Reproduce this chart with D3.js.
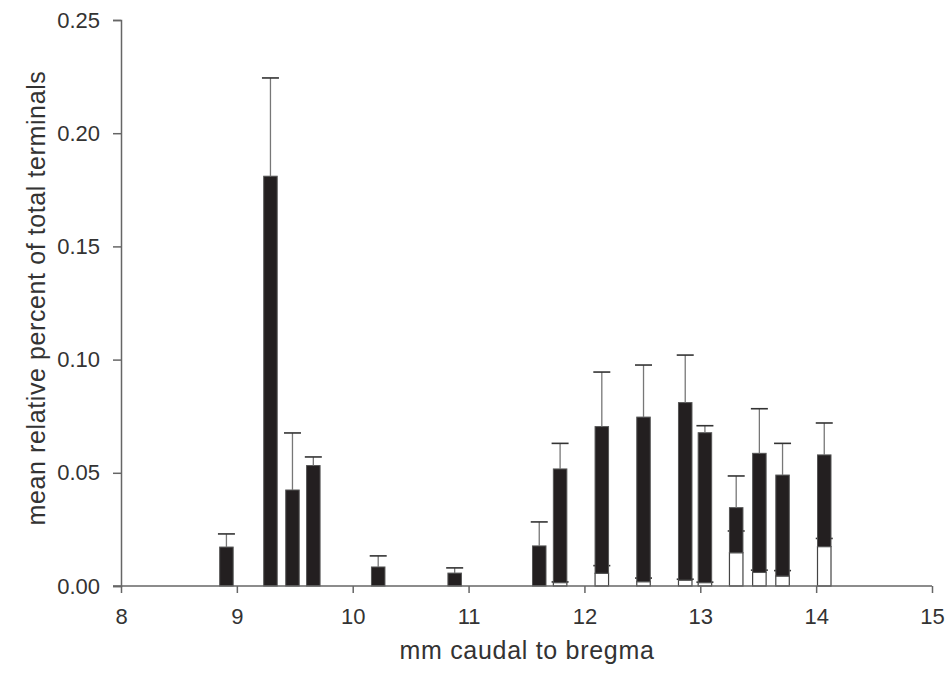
<!DOCTYPE html>
<html>
<head>
<meta charset="utf-8">
<script src="https://cdn.jsdelivr.net/npm/d3@7"></script>
<style>
  body { margin: 0; background: #fff; }
  svg text { font-family: "Liberation Sans", Arial, sans-serif; fill: #333; }
</style>
</head>
<body>
<svg id="svg" width="950" height="682"></svg>
<script>
// positions in mm caudal to bregma (bar centres)
const positions = [8.91, 9.29, 9.48, 9.66, 10.22, 10.88, 11.61, 11.79, 12.15, 12.51, 12.87, 13.04, 13.31, 13.51, 13.71, 14.07];
// white (lower) segment and its error
const whiteMean = [0, 0, 0, 0, 0, 0, 0, 0.0015, 0.0056, 0.0019, 0.0026, 0.0015, 0.0147, 0.006, 0.0044, 0.0174];
const whiteErr = [0, 0, 0, 0, 0, 0, 0, 0.0003, 0.0034, 0.0016, 0.0004, 0.0002, 0.0096, 0.001, 0.0024, 0.0036];
// black (upper) segment and its error
const blackMean = [0.0172, 0.181, 0.0424, 0.0532, 0.0084, 0.0057, 0.0177, 0.0502, 0.0648, 0.0727, 0.0784, 0.0662, 0.0199, 0.0526, 0.0446, 0.0405];
const blackErr = [0.0058, 0.0434, 0.0252, 0.0038, 0.0049, 0.0023, 0.0106, 0.0113, 0.0241, 0.023, 0.021, 0.0031, 0.014, 0.0197, 0.014, 0.0141];

const xTicks = [8, 9, 10, 11, 12, 13, 14, 15];
const yTicks = [0, 0.05, 0.1, 0.15, 0.2, 0.25];

const svg = d3.select("#svg");
const x = d3.scaleLinear().domain([8, 15]).range([121, 932]);
const y = d3.scaleLinear().domain([0, 0.25]).range([586, 20]);
const barW = 13.5;
const capW = 17;

const rows = positions.map((p, i) => ({
  pos: p,
  white: whiteMean[i],
  black: blackMean[i],
  wErr: whiteErr[i],
  bErr: blackErr[i]
}));
const stack = d3.stack().keys(["white", "black"])(rows);

function errBar(g, data, topFn, errFn) {
  const eb = g.selectAll("g").data(data.filter((d) => errFn(d) > 0)).enter().append("g");
  eb.append("line")
    .attr("x1", (d) => x(d.pos)).attr("x2", (d) => x(d.pos))
    .attr("y1", (d) => y(topFn(d))).attr("y2", (d) => y(topFn(d) + errFn(d)))
    .attr("stroke", "#777").attr("stroke-width", 1.3);
  eb.append("line")
    .attr("x1", (d) => x(d.pos) - capW / 2).attr("x2", (d) => x(d.pos) + capW / 2)
    .attr("y1", (d) => y(topFn(d) + errFn(d))).attr("y2", (d) => y(topFn(d) + errFn(d)))
    .attr("stroke", "#333").attr("stroke-width", 1.6);
}

// white segments
svg.append("g").selectAll("rect")
  .data(stack[0].filter((d) => d[1] > d[0]))
  .enter().append("rect")
  .attr("x", (d) => x(d.data.pos) - barW / 2)
  .attr("width", barW)
  .attr("y", (d) => y(d[1]))
  .attr("height", (d) => y(d[0]) - y(d[1]))
  .attr("fill", "#fff")
  .attr("stroke", "#444")
  .attr("stroke-width", 1.2);

errBar(svg.append("g"), rows.filter((d) => d.white > 0), (d) => d.white, (d) => d.wErr);

// black segments
svg.append("g").selectAll("rect")
  .data(stack[1])
  .enter().append("rect")
  .attr("x", (d) => x(d.data.pos) - barW / 2)
  .attr("width", barW)
  .attr("y", (d) => y(d[1]))
  .attr("height", (d) => y(d[0]) - y(d[1]))
  .attr("fill", "#231f20")
  .attr("stroke", "#555")
  .attr("stroke-width", 1);

errBar(svg.append("g"), rows, (d) => d.white + d.black, (d) => d.bErr);

// axes
const xAxis = svg.append("g")
  .attr("transform", `translate(0,${y(0)})`)
  .call(d3.axisBottom(x).tickValues(xTicks).tickFormat(d3.format("d")).tickSizeOuter(0).tickSize(7).tickPadding(15));
const yAxis = svg.append("g")
  .attr("transform", `translate(${x(8)},0)`)
  .call(d3.axisLeft(y).tickValues(yTicks).tickFormat(d3.format(".2f")).tickSizeOuter(0).tickSize(8).tickPadding(13));
[xAxis, yAxis].forEach((a) => {
  a.select(".domain").attr("stroke", "#666").attr("stroke-width", 1.5);
  a.selectAll(".tick line").attr("stroke", "#666").attr("stroke-width", 1.5);
  a.selectAll(".tick text").style("font-size", "22px").attr("fill", "#333");
});
xAxis.select(".domain").attr("d", `M${x(8) - 8},0H${x(15)}`);

svg.append("text")
  .attr("x", 527).attr("y", 659)
  .attr("text-anchor", "middle")
  .style("font-size", "25px")
  .style("letter-spacing", "0.7px")
  .text("mm caudal to bregma");

svg.append("text")
  .attr("transform", "translate(45,298) rotate(-90)")
  .attr("text-anchor", "middle")
  .style("font-size", "25px")
  .style("letter-spacing", "0.6px")
  .text("mean relative percent of total terminals");
</script>
</body>
</html>
